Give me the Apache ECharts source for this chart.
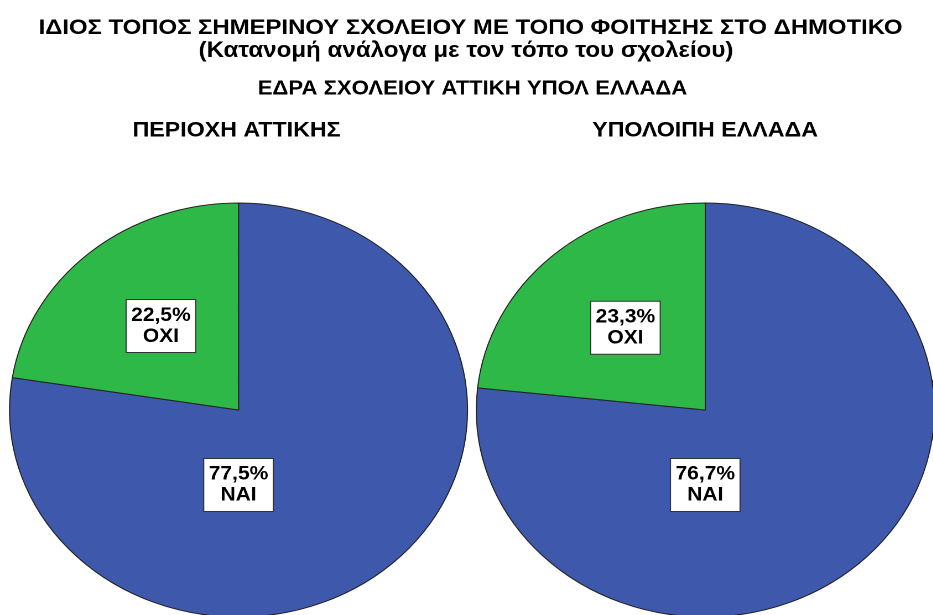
<!DOCTYPE html>
<html>
<head>
<meta charset="utf-8">
<script src="https://cdn.jsdelivr.net/npm/echarts@6/dist/echarts.min.js"></script>
<style>
  html, body { margin: 0; padding: 0; background: #fff; overflow: hidden; }
  /* the original SPSS picture is stretched sideways, so the chart is too */
  #chart {
    width: 843.3px;
    height: 615px;
    transform: scaleX(1.1063);
    transform-origin: 0 0;
  }
</style>
</head>
<body>
<div id="chart"></div>
<script>
const mainTitle = "ΙΔΙΟΣ ΤΟΠΟΣ ΣΗΜΕΡΙΝΟΥ ΣΧΟΛΕΙΟΥ ΜΕ ΤΟΠΟ ΦΟΙΤΗΣΗΣ ΣΤΟ ΔΗΜΟΤΙΚΟ";
const subTitle = "(Κατανομή ανάλογα με τον τόπο του σχολείου)";
const groupTitle = "ΕΔΡΑ ΣΧΟΛΕΙΟΥ ΑΤΤΙΚΗ ΥΠΟΛ ΕΛΛΑΔΑ";
const panels = ["ΠΕΡΙΟΧΗ ΑΤΤΙΚΗΣ", "ΥΠΟΛΟΙΠΗ ΕΛΛΑΔΑ"];
const answers = ["ΝΑΙ", "ΟΧΙ"];
const attikiPct = [77.5, 22.5];
const restPct = [76.7, 23.3];

const colors = ["#3E58AC", "#2EB848"];
const font = "Arial, 'Liberation Sans', sans-serif";
const panelX = [215.6, 637.5];

const chart = echarts.init(document.getElementById("chart"), null, { devicePixelRatio: 2 });

function fmt(p) {
  return p.value.toFixed(1).replace(".", ",") + "%\n" + p.name;
}

function makePie(values, cx) {
  return {
    type: "pie",
    center: [cx, 410],
    radius: 207,
    startAngle: 90,
    clockwise: true,
    avoidLabelOverlap: false,
    silent: true,
    itemStyle: { borderColor: "#222", borderWidth: 1 },
    labelLine: { show: false },
    label: {
      show: true,
      formatter: fmt,
      fontFamily: font,
      fontWeight: "bold",
      fontSize: 19,
      lineHeight: 21,
      color: "#000",
      backgroundColor: "#fff",
      borderColor: "#333",
      borderWidth: 1,
      padding: [6, 4, 4, 4]
    },
    data: answers.map((name, i) => ({
      name: name,
      value: values[i],
      itemStyle: { color: colors[i] },
      label: i === 0
        ? { position: "center", offset: [0, 75] }
        : { position: "inside", offset: [-1, -3] }
    }))
  };
}

const textStyle = (size) => ({
  fontFamily: font,
  fontWeight: "bold",
  fontSize: size,
  color: "#000"
});

chart.setOption({
  animation: false,
  backgroundColor: "#fff",
  title: [
    { text: mainTitle, left: 425.3, top: 17, textAlign: "center", padding: 0, textStyle: textStyle(21.6) },
    { text: subTitle, left: 421.2, top: 40, textAlign: "center", padding: 0, textStyle: textStyle(21.8) },
    { text: groupTitle, left: 427.1, top: 79, textAlign: "center", padding: 0, textStyle: textStyle(20) },
    { text: panels[0], left: 213.8, top: 120, textAlign: "center", padding: 0, textStyle: textStyle(21) },
    { text: panels[1], left: 637.3, top: 120, textAlign: "center", padding: 0, textStyle: textStyle(21) }
  ],
  series: [makePie(attikiPct, panelX[0]), makePie(restPct, panelX[1])]
});
</script>
</body>
</html>
